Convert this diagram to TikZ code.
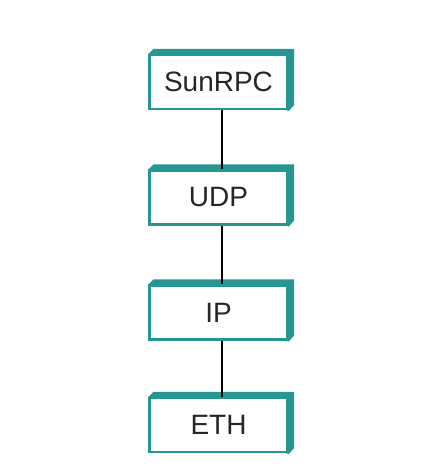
\documentclass[tikz,border=0pt]{standalone}
\usepackage{fontspec}
\setmainfont{Liberation Sans}
\usetikzlibrary{backgrounds}
\definecolor{teal1}{RGB}{38,150,148}
\tikzset{
  layer/.style={draw=teal1, line width=2.2pt, fill=white, minimum width=138pt, minimum height=54pt, inner sep=0pt, font=\fontsize{28}{32}\selectfont, text=black!85},
  link/.style={black, line width=1.2pt}
}
\begin{document}
\begin{tikzpicture}[x=1pt,y=1pt]
\useasboundingbox (0,0) rectangle (420,470);
\foreach \nm/\txt/\yy in {a/SunRPC/388, b/UDP/272.5, c/IP/157.5, d/ETH/45}{
  \node[layer] (\nm) at (218.5,\yy) {\txt};
  \begin{pgfonlayer}{background}
  \fill[teal1] (\nm.north west) -- ++(5,5) -- ([shift={(5.5,5)}]\nm.north east) -- ([shift={(5.5,5)}]\nm.south east) -- ([shift={(0,-1)}]\nm.south east) -- cycle;
  \end{pgfonlayer}
}
\draw[link] ([xshift=3.5pt]a.south) -- ([xshift=3.5pt]b.north);
\draw[link] ([xshift=3.5pt]b.south) -- ([xshift=3.5pt]c.north);
\draw[link] ([xshift=3.5pt]c.south) -- ([xshift=3.5pt]d.north);
\end{tikzpicture}
\end{document}
